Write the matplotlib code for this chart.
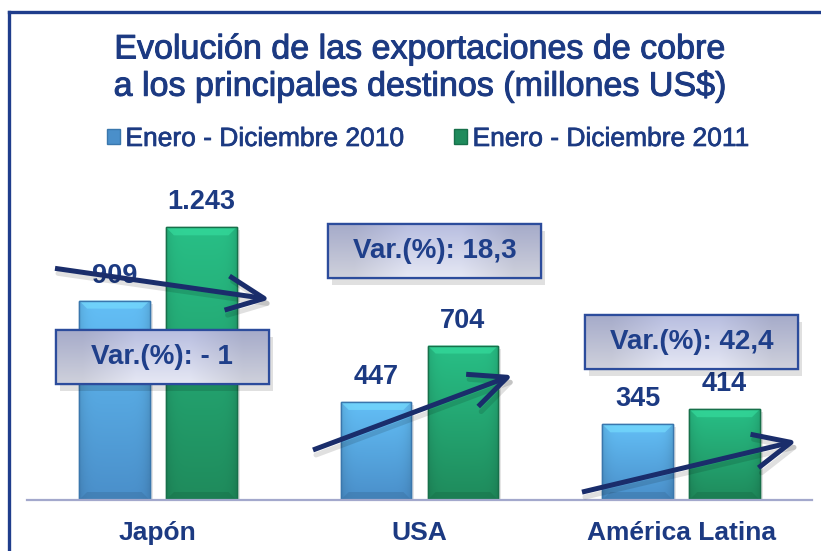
import matplotlib
matplotlib.use('Agg')
import matplotlib.pyplot as plt
import numpy as np
from matplotlib.patches import Rectangle, Polygon, Patch
from matplotlib.lines import Line2D
from matplotlib.colors import to_rgb
import matplotlib.patheffects as pe

# ---- data ----
categories = ['Japón', 'USA', 'América Latina']
series_names = ['Enero - Diciembre 2010', 'Enero - Diciembre 2011']
values_2010 = [909, 447, 345]
values_2011 = [1243, 704, 414]
value_labels_2010 = ['909', '447', '345']
value_labels_2011 = ['1.243', '704', '414']
var_labels = ['Var.(%): - 1', 'Var.(%): 18,3', 'Var.(%): 42,4']

plt.rcParams['font.family'] = ['Liberation Sans', 'DejaVu Sans']

NAVY = '#1c3a82'
ARROW = '#1a2d6b'
BLUE_TOP, BLUE_BOT, BLUE_EDGE = '#63bff6', '#4a8fca', '#3a77ad'
GREEN_TOP, GREEN_BOT, GREEN_EDGE = '#28bf86', '#1f8b5c', '#17704a'

W, H = 821, 551
fig = plt.figure(figsize=(W / 100, H / 100), dpi=100)
fig.patch.set_facecolor('white')


def px(x0, y0, x1, y1):
    return [x0 / W, 1 - y1 / H, (x1 - x0) / W, (y1 - y0) / H]


ax = fig.add_axes(px(27, 149, 812, 500))
YMAX = 1600
ax.set_xlim(-0.5, 2.5)
ax.set_ylim(0, YMAX)
for s in ['top', 'right', 'left']:
    ax.spines[s].set_visible(False)
ax.spines['bottom'].set_color('#a3a8cc')
ax.spines['bottom'].set_linewidth(1.6)
ax.set_yticks([])
x = np.arange(len(categories))
ax.set_xticks(x)
ax.set_xticklabels(categories, fontsize=19, fontweight='bold', color=NAVY)
ax.tick_params(axis='x', length=0, pad=15)

ax_w_px = 812 - 27
ax_h_px = 500 - 149
ux = 3.0 / ax_w_px
uy = YMAX / ax_h_px

bw = 0.27
off = 0.166


def grad_image(top, bot, nrows=64, ncols=32):
    t = np.linspace(0, 1, nrows)[:, None, None]
    img = np.array(to_rgb(top))[None, None, :] * (1 - t) + np.array(to_rgb(bot))[None, None, :] * t
    img = np.repeat(img, ncols, axis=1)
    cols = np.linspace(0, 1, ncols)
    shade = 1 - 0.10 * (np.abs(cols - 0.5) * 2) ** 6
    img = img * shade[None, :, None]
    return np.clip(img, 0, 1)


def fancy_bars(xs, vals, top, bot, edge, label):
    bars = ax.bar(xs, vals, width=bw, color=bot, edgecolor=edge, linewidth=1.0,
                  zorder=2, label=label)
    img = grad_image(top, bot)
    for p in bars.patches:
        bx, bwid, bh = p.get_x(), p.get_width(), p.get_height()
        ax.add_patch(Rectangle((bx + 3 * ux, 0), bwid, bh - 3 * uy, color='black',
                               alpha=0.10, zorder=1, linewidth=0))
        im = ax.imshow(img, extent=[bx, bx + bwid, 0, bh], aspect='auto', zorder=2.1,
                       interpolation='bilinear')
        im.set_clip_path(p)
        dx, dy = 8 * ux, 8 * uy
        light = np.clip(np.array(to_rgb(top)) * 1.12 + 0.04, 0, 1)
        ax.add_patch(Polygon([(bx, bh), (bx + bwid, bh), (bx + bwid - dx, bh - dy),
                              (bx + dx, bh - dy)], closed=True, facecolor=light,
                             edgecolor='none', alpha=0.6, zorder=2.2))
        dark = np.array(to_rgb(bot)) * 0.82
        ax.add_patch(Polygon([(bx, 0), (bx + bwid, 0), (bx + bwid - dx, dy),
                              (bx + dx, dy)], closed=True, facecolor=dark,
                             edgecolor='none', alpha=0.5, zorder=2.2))
        ax.add_patch(Rectangle((bx, 0), bwid, bh, fill=False, edgecolor=edge,
                               linewidth=1.0, zorder=2.3))
    return bars


b1 = fancy_bars(x - off, values_2010, BLUE_TOP, BLUE_BOT, BLUE_EDGE, series_names[0])
b2 = fancy_bars(x + off, values_2011, GREEN_TOP, GREEN_BOT, GREEN_EDGE, series_names[1])

for bars, labels in [(b1, value_labels_2010), (b2, value_labels_2011)]:
    for p, lab in zip(bars.patches, labels):
        ax.text(p.get_x() + p.get_width() / 2, p.get_height() + 12 * uy, lab,
                ha='center', va='bottom', fontsize=19.5, fontweight='bold',
                color=NAVY, zorder=4)

# ---- arrows ----
arrow_specs = [
    ((-0.393, 1056), (0.429, 915)),
    ((0.593, 228), (1.357, 569)),
    ((1.621, 36), (2.442, 269)),
]
astyle = '->,head_length=1.35,head_width=0.62'
for (s, e) in arrow_specs:
    ax.annotate('', xy=(e[0] + 3 * ux, e[1] - 5 * uy), xytext=(s[0] + 3 * ux, s[1] - 5 * uy),
                arrowprops=dict(arrowstyle=astyle, lw=3.6, color='black', alpha=0.12,
                                mutation_scale=20, shrinkA=0, shrinkB=0),
                zorder=5, annotation_clip=False)
    ax.annotate('', xy=e, xytext=s,
                arrowprops=dict(arrowstyle=astyle, lw=3.6, color=ARROW, mutation_scale=20,
                                shrinkA=0, shrinkB=0, capstyle='butt'),
                zorder=6, annotation_clip=False)

# ---- variation boxes ----
box_centers = [(0.016, 651), (1.057, 1134), (2.039, 719)]
box_w, box_h = 213 * ux, 54 * uy
box_img = grad_image('#b8bee0', '#e6e8f4', ncols=4)
for (cx, cy), lab in zip(box_centers, var_labels):
    x0, y0 = cx - box_w / 2, cy - box_h / 2
    ax.add_patch(Rectangle((x0 + 4 * ux, y0 - 7 * uy), box_w, box_h, facecolor='black',
                           alpha=0.12, linewidth=0, zorder=6.5))
    r = Rectangle((x0, y0), box_w, box_h, facecolor='#d0d4ec', edgecolor='#2c4c9c',
                  linewidth=1.6, zorder=7)
    ax.add_patch(r)
    im = ax.imshow(box_img, extent=[x0, x0 + box_w, y0, y0 + box_h], aspect='auto',
                   zorder=7.1, interpolation='bilinear')
    im.set_clip_path(r)
    ax.add_patch(Rectangle((x0, y0), box_w, box_h, fill=False, edgecolor='#2c4c9c',
                           linewidth=1.6, zorder=7.2))
    ax.text(cx, cy, lab, ha='center', va='center', fontsize=20, fontweight='bold',
            color='#1f3f8a', zorder=8)

ax.set_xlim(-0.5, 2.5)
ax.set_ylim(0, YMAX)

# ---- title ----
thick = [pe.withStroke(linewidth=0.7, foreground=NAVY)]
fig.text(420 / W, 1 - 50 / H, 'Evolución de las exportaciones de cobre', ha='center',
         va='center', fontsize=24.5, color=NAVY, path_effects=thick)
fig.text(420 / W, 1 - 87 / H, 'a los principales destinos (millones US$)', ha='center',
         va='center', fontsize=24.5, color=NAVY, path_effects=thick)

# ---- legend ----
handles = [Patch(facecolor=BLUE_BOT, edgecolor=BLUE_EDGE),
           Patch(facecolor=GREEN_BOT, edgecolor=GREEN_EDGE)]
leg = fig.legend(handles, series_names, loc='center', bbox_to_anchor=(428 / W, 1 - 139 / H),
                 ncol=2, frameon=False, fontsize=19, handlelength=0.5, handleheight=0.5,
                 handletextpad=0.2, columnspacing=1.9, labelcolor=NAVY)
for t in leg.get_texts():
    t.set_path_effects([pe.withStroke(linewidth=0.5, foreground=NAVY)])

# ---- frame lines ----
fig.add_artist(Line2D([9 / W, 9 / W], [0, 1 - 12 / H], color='#1f3d8c', linewidth=2.4))
fig.add_artist(Line2D([9 / W, 1], [1 - 12 / H, 1 - 12 / H], color='#1f3d8c', linewidth=2.4))

fig.savefig('out.png', dpi=100)
